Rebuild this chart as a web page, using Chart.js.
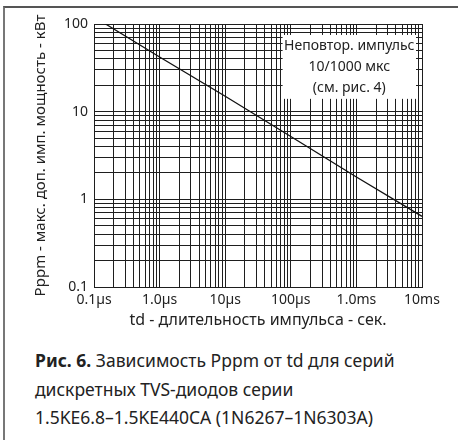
<!DOCTYPE html>
<html>
<head>
<meta charset="utf-8">
<script src="https://cdn.jsdelivr.net/npm/chart.js@4"></script>
<style>
    body { margin: 0; background: #fff; font-family: 'Noto Sans', sans-serif; }
    #frame { position: absolute; left: 3px; top: 6px; width: 455px; height: 434px; border-top: 2px solid #555; border-left: 2px solid #777; }
    #wrap { position: absolute; left: 0; top: 0; width: 458px; height: 335px; }
    #caption { position: absolute; left: 35px; top: 346px; font-size: 17.5px; line-height: 28.5px; color: #222; }
    #caption b { font-weight: 700; }
</style>
</head>
<body>
<div id="frame"></div>
<div id="wrap"><canvas id="pulseChart" width="458" height="335"></canvas></div>
<div id="caption">
    <b>Рис. 6.</b> Зависимость Pppm от td для серий<br>
    дискретных TVS-диодов серии<br>
    1.5KE6.8–1.5KE440CA (1N6267–1N6303A)
</div>
<script>
// data
const pulseTime = [1.5e-7, 1e-6, 1e-5, 1e-4, 1e-3, 1e-2];   // seconds
const peakPower = [100, 42, 15, 5.2, 1.8, 0.64];            // kW

// axes
const xMajor = [1e-7, 1e-6, 1e-5, 1e-4, 1e-3, 1e-2];
const xLabels = ['0.1µs', '1.0µs', '10µs', '100µs', '1.0ms', '10ms'];
const yMajor = [0.1, 1, 10, 100];
const yLabels = ['0.1', '1', '10', '100'];

const annotLines = ['Неповтор. импульс', '10/1000 мкс', '(см. рис. 4)'];

const gridColor = '#1e1e1e';
const fontFamily = "'Noto Sans', sans-serif";

// log grid: 1..9 in every decade
function logGrid(majors) {
    const out = [];
    for (let i = 0; i < majors.length; i++) {
        const last = i === majors.length - 1;
        for (let k = 1; k <= (last ? 1 : 9); k++) {
            out.push(k * majors[i]);
        }
    }
    return out;
}

function labelFor(value, majors, labels) {
    const i = majors.findIndex(m => Math.abs(m - value) / m < 1e-6);
    return i >= 0 ? labels[i] : '';
}

const annotationBox = {
    id: 'annotationBox',
    afterDraw(chart) {
        const ctx = chart.ctx;
        const x = chart.scales.x;
        const y = chart.scales.y;
        const left = x.getPixelForValue(7.5e-5);
        const right = chart.chartArea.right - 6;
        const top = y.getPixelForValue(75);
        const bottom = y.getPixelForValue(14);

        ctx.save();
        ctx.fillStyle = '#fff';
        ctx.fillRect(left, top, right - left, bottom - top);
        ctx.fillStyle = '#222';
        ctx.font = "14px " + fontFamily;
        ctx.textAlign = 'center';
        ctx.textBaseline = 'middle';
        const cx = (left + right) / 2;
        const step = (bottom - top) / annotLines.length;
        annotLines.forEach((line, i) => {
            ctx.fillText(line, cx, top + step * (i + 0.5));
        });
        ctx.restore();
    }
};

const chartData = {
    datasets: [
        {
            data: pulseTime.map((t, i) => ({ x: t, y: peakPower[i] })),
            borderColor: '#111',
            borderWidth: 1.3,
            pointRadius: 0,
            tension: 0,
        }
    ]
};

const options = {
    responsive: false,
    animation: false,
    layout: {
        padding: { top: 24, right: 36, bottom: 0, left: 0 },
    },
    plugins: {
        legend: { display: false },
        tooltip: { enabled: false },
    },
    scales: {
        x: {
            type: 'logarithmic',
            min: 1e-7,
            max: 1e-2,
            afterBuildTicks: (scale) => {
                scale.ticks = logGrid(xMajor).map(v => ({ value: v }));
            },
            afterFit: (scale) => {
                scale.height = 48;
            },
            ticks: {
                autoSkip: false,
                maxRotation: 0,
                padding: 5,
                color: '#222',
                font: { family: fontFamily, size: 14 },
                callback: (value) => labelFor(value, xMajor, xLabels),
            },
            grid: {
                color: gridColor,
                drawTicks: false,
            },
            border: { color: gridColor },
            title: {
                display: true,
                text: 'td - длительность импульса - сек.',
                color: '#222',
                font: { family: fontFamily, size: 16 },
                padding: { top: 0, bottom: 5 },
            },
        },
        y: {
            type: 'logarithmic',
            min: 0.1,
            max: 100,
            afterBuildTicks: (scale) => {
                scale.ticks = logGrid(yMajor).map(v => ({ value: v }));
            },
            afterFit: (scale) => {
                scale.width = 94;
            },
            ticks: {
                autoSkip: false,
                padding: 6,
                color: '#222',
                font: { family: fontFamily, size: 14 },
                callback: (value) => labelFor(value, yMajor, yLabels),
            },
            grid: {
                color: gridColor,
                drawTicks: false,
            },
            border: { color: gridColor },
            title: {
                display: true,
                text: 'Pppm - макс. доп. имп. мощность - кВт',
                color: '#222',
                font: { family: fontFamily, size: 15 },
                padding: { top: 32, bottom: 0 },
            },
        },
    },
};

new Chart(document.getElementById('pulseChart'), {
    type: 'line',
    data: chartData,
    options: options,
    plugins: [annotationBox],
});
</script>
</body>
</html>
